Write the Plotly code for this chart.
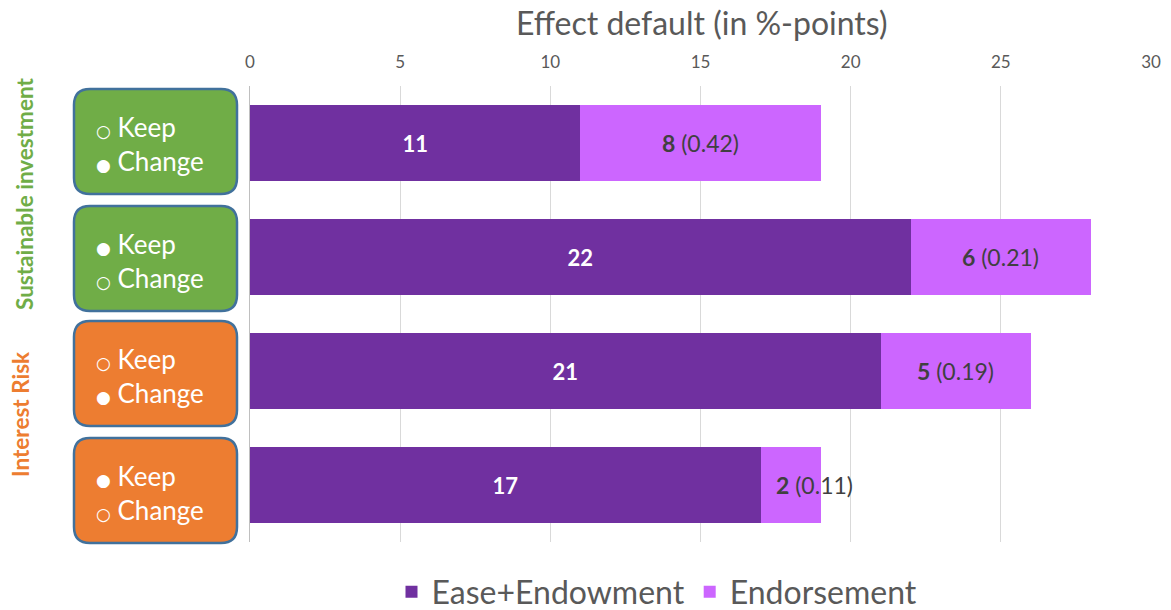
import plotly.graph_objects as go

# ---------------- data ----------------
categories = ["SI: keep→change", "SI: change→keep", "IR: keep→change", "IR: change→keep"]
ease_endowment = [11, 22, 21, 17]
endorsement = [8, 6, 5, 2]
endorsement_p = [0.42, 0.21, 0.19, 0.11]
box_lines = [("○", "Keep", "●", "Change"), ("●", "Keep", "○", "Change"),
             ("○", "Keep", "●", "Change"), ("●", "Keep", "○", "Change")]
group_labels = ["Sustainable investment", "Interest Risk"]
x_ticks = [0, 5, 10, 15, 20, 25, 30]

# ---------------- styles ----------------
W, H = 1171, 610
L, R, T, B = 250, 20, 86, 68
PW, PH = W - L - R, H - T - B
FONT = "Lato"
DARK = "#7030A0"
LIGHT = "#CC66FF"
GREEN = "#70AD47"
ORANGE = "#ED7D31"
BORDER = "#41719C"
GRAY = "#595959"


def px(xp):
    return (xp - L) / PW


def py(yp):
    return (T + PH - yp) / PH


fig = go.Figure()
fig.add_trace(go.Bar(
    y=categories, x=ease_endowment, orientation="h", name="Ease+Endowment",
    marker=dict(color=DARK, line=dict(width=0)),
    text=[f"<b>{v}</b>" for v in ease_endowment], textposition="inside",
    insidetextanchor="middle", textfont=dict(color="white", size=22, family=FONT),
))
fig.add_trace(go.Bar(
    y=categories, x=endorsement, orientation="h", name="Endorsement",
    marker=dict(color=LIGHT, line=dict(width=0)),
    hoverinfo="x",
))

annotations = []
for i, (c, e, n, p) in enumerate(zip(categories, ease_endowment, endorsement, endorsement_p)):
    annotations.append(dict(
        x=e + n / 2, y=c, xref="x", yref="y", showarrow=False,
        xanchor="center", yanchor="middle",
        xshift=24 if i == 3 else 0,
        text=f"<b>{n}</b> ({p:.2f})", font=dict(size=23, color="#404040", family=FONT),
    ))

# left boxes
shapes = []
box_tops = [89, 206, 321, 438]
box_h = 105
x0p, x1p = 74, 237
rr = 16
for i, top in enumerate(box_tops):
    fill = GREEN if i < 2 else ORANGE
    bot = top + box_h
    xa, xb = px(x0p), px(x1p)
    ya, yb = py(top), py(bot)
    dx = rr / PW
    dy = rr / PH
    path = (f"M {xa+dx},{ya} L {xb-dx},{ya} Q {xb},{ya} {xb},{ya-dy} "
            f"L {xb},{yb+dy} Q {xb},{yb} {xb-dx},{yb} L {xa+dx},{yb} "
            f"Q {xa},{yb} {xa},{yb+dy} L {xa},{ya-dy} Q {xa},{ya} {xa+dx},{ya} Z")
    shapes.append(dict(type="path", path=path, xref="paper", yref="paper",
                       fillcolor=fill, line=dict(color=BORDER, width=2.5), layer="above"))
    s1, w1, s2, w2 = box_lines[i]
    txt = (f"<span style='font-family:DejaVu Sans;font-size:17px'><b>{s1}</b></span> {w1}<br>"
           f"<span style='font-family:DejaVu Sans;font-size:17px'>{s2}</span> {w2}")
    annotations.append(dict(
        x=px(94), y=py(top + box_h / 2 + 2), xref="paper", yref="paper",
        xanchor="left", yanchor="middle", align="left", showarrow=False,
        text=txt, font=dict(size=26, color="white", family=FONT),
    ))

annotations.append(dict(x=px(24), y=py(194), xref="paper", yref="paper", showarrow=False,
                        xanchor="center", yanchor="middle",
                        textangle=-90, text=f"<b>{group_labels[0]}</b>",
                        font=dict(size=22.5, color=GREEN, family=FONT)))
annotations.append(dict(x=px(20), y=py(414), xref="paper", yref="paper", showarrow=False,
                        xanchor="center", yanchor="middle",
                        textangle=-90, text=f"<b>{group_labels[1]}</b>",
                        font=dict(size=22.5, color=ORANGE, family=FONT)))
annotations.append(dict(x=px(702), y=py(22), xref="paper", yref="paper", showarrow=False,
                        xanchor="center", yanchor="middle",
                        text="Effect default (in %-points)",
                        font=dict(size=32, color=GRAY, family=FONT)))

fig.update_layout(
    width=W, height=H, margin=dict(l=L, r=R, t=T, b=B, autoexpand=False),
    barmode="stack", bargap=0.33,
    plot_bgcolor="white", paper_bgcolor="white",
    font=dict(family=FONT, color=GRAY),
    showlegend=True,
    legend=dict(orientation="h", x=px(657), xanchor="center", y=py(592), yanchor="middle",
                font=dict(size=32, color=GRAY, family=FONT), itemwidth=30, traceorder="normal"),
    xaxis=dict(side="top", range=[0, 30], tickvals=x_ticks, showgrid=True,
               gridcolor="#D9D9D9", gridwidth=1, zeroline=False, showline=False,
               tickfont=dict(size=17, color=GRAY, family=FONT), ticks="",
               ticklabelstandoff=14, fixedrange=True),
    yaxis=dict(categoryorder="array", categoryarray=categories, autorange="reversed",
               showticklabels=False, showgrid=False, zeroline=False,
               showline=True, linecolor="#BFBFBF", linewidth=1, ticks=""),
    shapes=shapes, annotations=annotations,
)

fig.write_html("out.html")
